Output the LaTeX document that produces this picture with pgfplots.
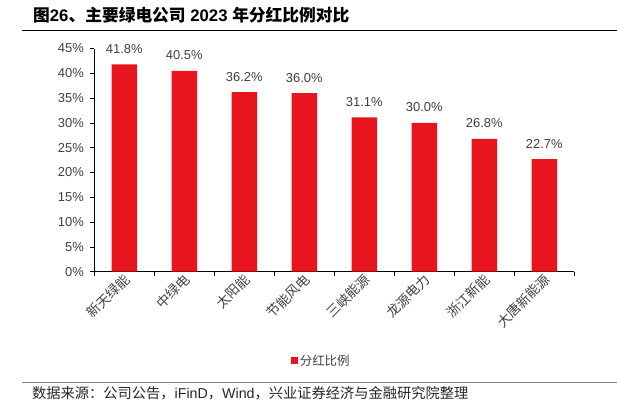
\documentclass[border=0pt]{standalone}
\usepackage{fontspec}
\setmainfont{Liberation Sans}
\newfontfamily\cjk{Noto Sans CJK SC}
\usepackage{pgfplots}
\pgfplotsset{compat=1.18}
\definecolor{barred}{RGB}{232,20,30}
\definecolor{txtgray}{RGB}{64,64,64}
\begin{document}
\begin{tikzpicture}[x=1bp,y=1bp]
\useasboundingbox (0,0) rectangle (617,405);
% title and rules
\node[anchor=base west, inner sep=0pt, font=\fontsize{16.8}{16.8}\selectfont\bfseries]
  at (33,383.3) {{\cjk 图}26{\cjk 、主要绿电公司} 2023 {\cjk 年分红比例对比}};
\draw[line width=1bp, black] (22,374.3) -- (617,374.3);
\draw[line width=1.3bp, gray] (22,22.3) -- (617,22.3);
\node[anchor=base west, inner sep=0pt, font=\fontsize{14.3}{14.3}\selectfont, text=black!85]
  at (32,6.7) {{\cjk 数据来源：公司公告，}iFinD{\cjk ，}Wind{\cjk ，兴业证券经济与金融研究院整理}};
\begin{axis}[
  at={(94.3bp,133.3bp)}, anchor=south west,
  scale only axis, width=480bp, height=223.2bp,
  xmin=-0.5, xmax=7.5, ymin=0, ymax=45,
  axis lines*=left,
  axis line style={line width=0.8bp, black},
  clip=false,
  ybar, bar width=25.6bp,
  ytick={0,5,...,45},
  yticklabel={\pgfmathprintnumber{\tick}\%},
  xtick={-0.5,0.5,...,7.5},
  x tick label as interval,
  xticklabels={新天绿能,中绿电,太阳能,节能风电,三峡能源,龙源电力,浙江新能,大唐新能源},
  tick align=outside, major tick length=4bp,
  every tick/.style={black, line width=0.8bp},
  /pgf/number format/assume math mode=true,
  tick label style={font=\fontsize{13}{13}\selectfont, text=txtgray},
  yticklabel style={xshift=-3bp},
  xticklabel style={font=\fontsize{13.5}{13.5}\selectfont\cjk, rotate=45, anchor=east, inner sep=0pt, xshift=1.5bp, yshift=-3bp},
  nodes near coords={\pgfmathprintnumber[fixed,fixed zerofill,precision=1]{\pgfplotspointmeta}\%},
  every node near coord/.append style={anchor=base, yshift=11bp, font=\fontsize{13}{13}\selectfont, text=txtgray},
  legend image code/.code={\fill[barred] (0bp,-3.5bp) rectangle (7bp,3.5bp);},
  legend style={draw=none, fill=none, at={(0.409,-0.398)}, anchor=west, inner sep=0pt,
    font=\fontsize{12.5}{12.5}\selectfont\cjk, text=txtgray},
]
\addplot[fill=barred, draw=none] coordinates {
  (0,41.8) (1,40.5) (2,36.2) (3,36.0) (4,31.1) (5,30.0) (6,26.8) (7,22.7)
};
\addlegendentry{分红比例}
\end{axis}
\end{tikzpicture}
\end{document}
